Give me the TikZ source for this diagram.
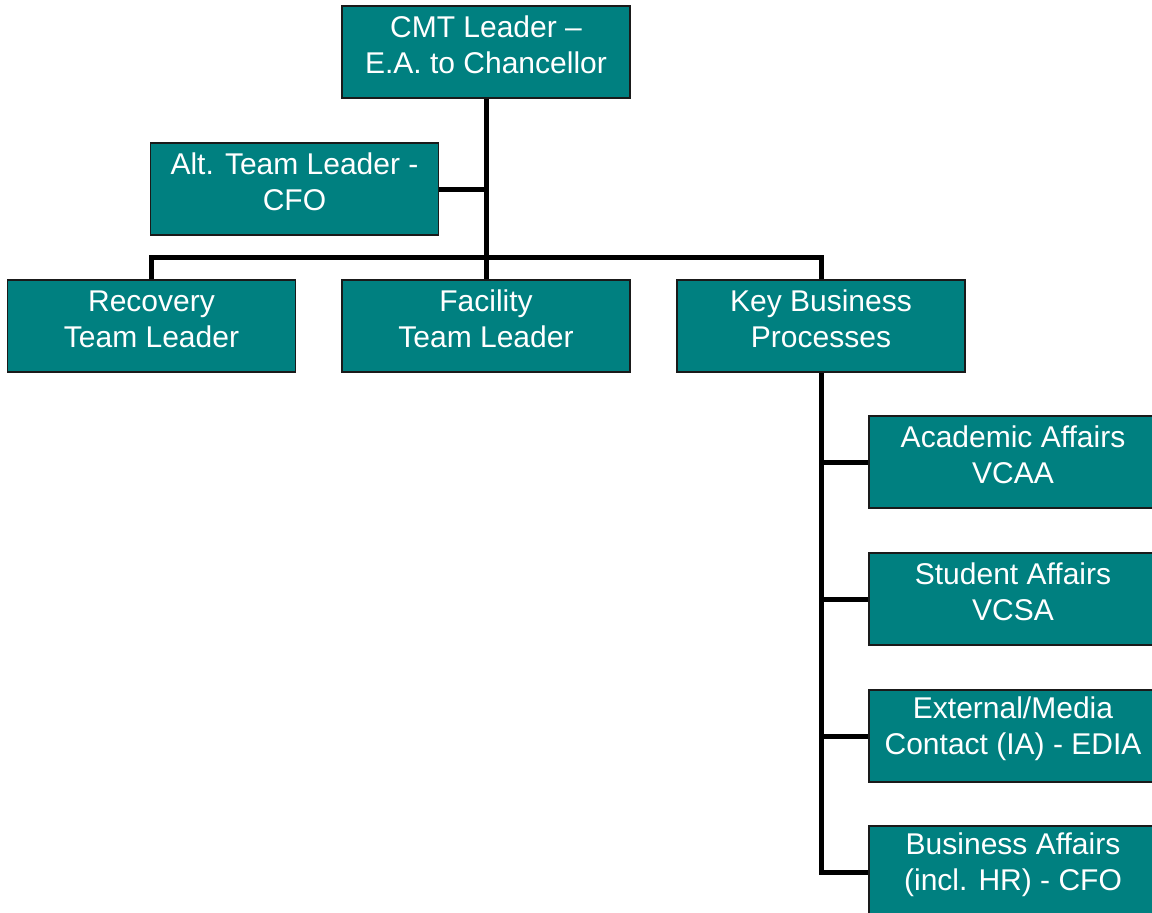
\documentclass[tikz,border=0pt]{standalone}
\usepackage{fontspec}
\setmainfont{Liberation Sans}
\definecolor{boxteal}{HTML}{008080}
\definecolor{boxedge}{HTML}{1A1A1A}
\begin{document}
\begin{tikzpicture}[x=1pt,y=-1pt,
  orgbox/.style={draw=boxedge,line width=1.2pt,fill=boxteal,rectangle,
    minimum width=288pt,minimum height=92pt,inner sep=0pt},
  orgtext/.style={text=white,align=center,inner sep=0pt,
    font=\fontsize{30}{36}\selectfont},
  link/.style={line width=5pt,draw=black}]
\useasboundingbox (0,0) rectangle (1152,913);
\clip (0,0) rectangle (1152,913);

% boxes
\node[orgbox] (cmt) at (486,52) {};
\node[orgbox] (alt) at (294.5,189) {};
\node[orgbox] (rec) at (151.5,326) {};
\node[orgbox] (fac) at (486,326) {};
\node[orgbox] (key) at (821,326) {};
\node[orgbox] (aca) at (1013,462) {};
\node[orgbox] (stu) at (1013,599) {};
\node[orgbox] (ext) at (1013,736) {};
\node[orgbox] (bus) at (1013,872) {};

% box captions, set a little above the box centres
\node[orgtext] (cmtT) at ([yshift=7pt]cmt.center) {CMT Leader –\\E.A. to Chancellor};
\node[orgtext] (altT) at ([yshift=7pt]alt.center) {Alt. Team Leader -\\CFO};
\node[orgtext] (recT) at ([yshift=7pt]rec.center) {Recovery\\Team Leader};
\node[orgtext] (facT) at ([yshift=7pt]fac.center) {Facility\\Team Leader};
\node[orgtext] (keyT) at ([yshift=7pt]key.center) {Key Business\\Processes};
\node[orgtext] (acaT) at ([yshift=7pt]aca.center) {Academic Affairs\\VCAA};
\node[orgtext] (stuT) at ([yshift=7pt]stu.center) {Student Affairs\\VCSA};
\node[orgtext] (extT) at ([yshift=7pt]ext.center) {External/Media\\Contact (IA) - EDIA};
\node[orgtext] (busT) at ([yshift=7pt]bus.center) {Business Affairs\\(incl. HR) - CFO};

% connectors
\coordinate (rail) at (486,257);
\draw[link] (cmt.south) -- (fac.north);
\draw[link] (alt.east) -- (alt.east -| cmt.south);
\draw[link] (rec.north) |- (rail) -| (key.north);
\draw[link] (key.south) |- (bus.west);
\draw[link] (key.south |- aca.west) -- (aca.west);
\draw[link] (key.south |- stu.west) -- (stu.west);
\draw[link] (key.south |- ext.west) -- (ext.west);
\end{tikzpicture}
\end{document}
